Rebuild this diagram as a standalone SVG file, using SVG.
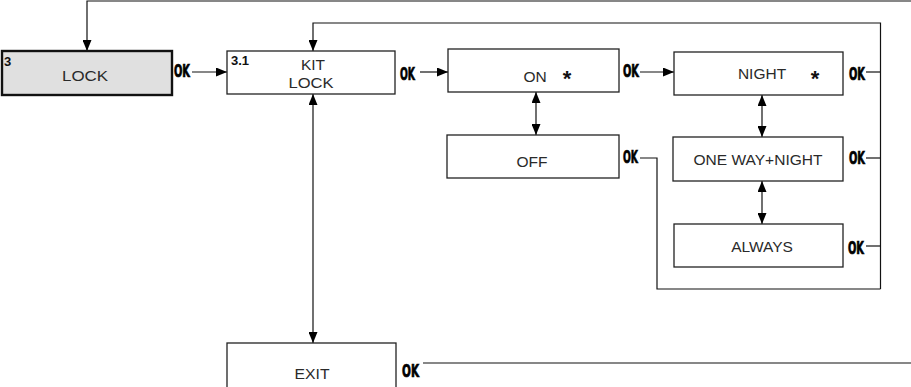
<svg xmlns="http://www.w3.org/2000/svg" width="911" height="387" viewBox="0 0 911 387">
<style>
.box{fill:#fff;stroke:#222;stroke-width:1.3}
.main{fill:#e0e0e0;stroke:#111;stroke-width:2.4}
.lbl{font-family:"Liberation Sans",Arial,sans-serif;font-size:15.5px;fill:#2a2a2a;text-anchor:middle}
.num{font-family:"Liberation Sans",Arial,sans-serif;font-size:13px;font-weight:bold;fill:#111}
.star{font-family:"Liberation Sans",Arial,sans-serif;font-size:22px;font-weight:bold;fill:#111;text-anchor:middle}
.ok{font-family:"DejaVu Sans",sans-serif;font-stretch:condensed;font-weight:bold;font-size:17px;fill:#000;stroke:#000;stroke-width:0.7}
.ln{fill:none;stroke:#111;stroke-width:1.2}
</style>
<defs>
<marker id="ah" markerUnits="userSpaceOnUse" markerWidth="11" markerHeight="9" refX="11" refY="4.5" orient="auto-start-reverse" viewBox="0 0 11 9">
<path d="M0,0 L11,4.5 L0,9 z" fill="#000"/>
</marker>
</defs>
<g id="connectors">
<path class="ln" d="M911 1 H87 V51" marker-end="url(#ah)"/>
<path class="ln" d="M423 363 H911"/>
<path class="ln" d="M192 72 H227" marker-end="url(#ah)"/>
<path class="ln" d="M420 72 H448" marker-end="url(#ah)"/>
<path class="ln" d="M640 72 H674" marker-end="url(#ah)"/>
<path class="ln" d="M866 72 H880.5"/>
<path class="ln" d="M880.5 289 V23 H313 V51" marker-end="url(#ah)"/>
<path class="ln" d="M866 158 H880.5"/>
<path class="ln" d="M866 246 H880.5"/>
<path class="ln" d="M640 158 H657 V289 H880.5"/>
<path class="ln" d="M536 92 V135" marker-start="url(#ah)" marker-end="url(#ah)"/>
<path class="ln" d="M762 95 V137" marker-start="url(#ah)" marker-end="url(#ah)"/>
<path class="ln" d="M762 181 V224" marker-start="url(#ah)" marker-end="url(#ah)"/>
<path class="ln" d="M313 94 V343" marker-start="url(#ah)" marker-end="url(#ah)"/>
</g>
<g id="ok-labels">
<text class="ok" x="174" y="77" textLength="16" lengthAdjust="spacingAndGlyphs">OK</text>
<text class="ok" x="400" y="80" textLength="15" lengthAdjust="spacingAndGlyphs">OK</text>
<text class="ok" x="623" y="77" textLength="16" lengthAdjust="spacingAndGlyphs">OK</text>
<text class="ok" x="849" y="80" textLength="16" lengthAdjust="spacingAndGlyphs">OK</text>
<text class="ok" x="623" y="163" textLength="15" lengthAdjust="spacingAndGlyphs">OK</text>
<text class="ok" x="849" y="164" textLength="16" lengthAdjust="spacingAndGlyphs">OK</text>
<text class="ok" x="848" y="254" textLength="16" lengthAdjust="spacingAndGlyphs">OK</text>
<text class="ok" x="402" y="377" textLength="17" lengthAdjust="spacingAndGlyphs">OK</text>
</g>
<g id="node-lock">
<rect class="main" x="2" y="51" width="170" height="44"/>
<text class="num" x="4" y="66">3</text>
<text class="lbl" x="85" y="81" textLength="46" lengthAdjust="spacingAndGlyphs">LOCK</text>
</g>
<g id="node-kitlock">
<rect class="box" x="227" y="51" width="168" height="43"/>
<text class="num" x="231" y="65">3.1</text>
<text class="lbl" x="313" y="70">KIT</text>
<text class="lbl" x="311" y="88" textLength="45" lengthAdjust="spacingAndGlyphs">LOCK</text>
</g>
<g id="node-on">
<rect class="box" x="448" y="49" width="171" height="43"/>
<text class="lbl" x="535" y="82">ON</text>
<text class="star" x="567" y="86">*</text>
</g>
<g id="node-night">
<rect class="box" x="674" y="52" width="169" height="43"/>
<text class="lbl" x="762" y="79">NIGHT</text>
<text class="star" x="815" y="86">*</text>
</g>
<g id="node-off">
<rect class="box" x="447" y="135" width="172" height="43"/>
<text class="lbl" x="532" y="167">OFF</text>
</g>
<g id="node-oneway">
<rect class="box" x="673" y="137" width="170" height="44"/>
<text class="lbl" x="758" y="165" textLength="129" lengthAdjust="spacingAndGlyphs">ONE WAY+NIGHT</text>
</g>
<g id="node-always">
<rect class="box" x="674" y="224" width="169" height="43"/>
<text class="lbl" x="762" y="252">ALWAYS</text>
</g>
<g id="node-exit">
<rect class="box" x="227" y="343" width="169" height="45"/>
<text class="lbl" x="312" y="379" textLength="35" lengthAdjust="spacingAndGlyphs">EXIT</text>
</g>
</svg>
